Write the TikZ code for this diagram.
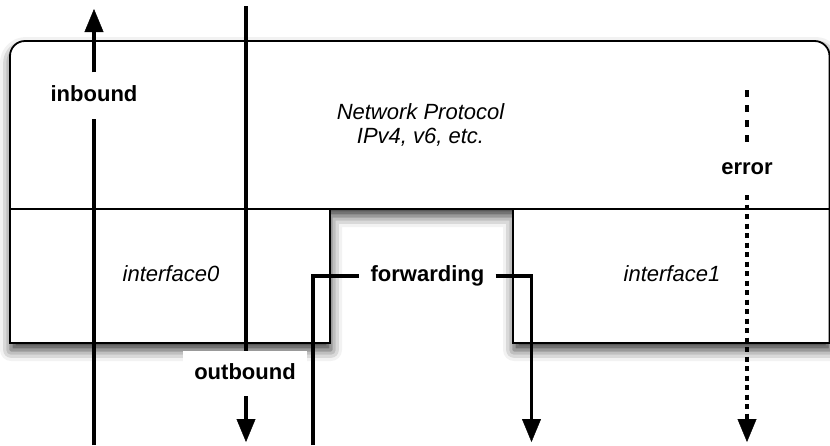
\documentclass[tikz,border=0pt]{standalone}
\usepackage{fontspec}
\setmainfont{Liberation Sans}
\usetikzlibrary{arrows.meta,shadows.blur}
\begin{document}
\begin{tikzpicture}[x=1pt,y=-1pt,
  boxline/.style={line width=1.8pt},
  flow/.style={line width=3.6pt},
  tipped/.style={-{Triangle[width=19pt 0 0, length=23pt 0 0, line width=0.4pt 0 0, fill=black]}},
  errup/.style={flow, dash pattern=on 6.5pt off 8.5pt},
  errdown/.style={flow, dash pattern=on 5pt off 4.5pt},
  blbl/.style={font=\fontsize{22}{26}\selectfont\bfseries, text height=16pt, text depth=4.6pt, inner xsep=0pt},
  ilbl/.style={font=\fontsize{22}{24}\selectfont\itshape, align=center, inner sep=0pt},
  boxshadow/.style={blur shadow={shadow xshift=1pt, shadow yshift=-7pt, shadow blur radius=11pt, shadow opacity=80}}
]
\useasboundingbox (0,0) rectangle (830,445);

% combined outline: network protocol box + two interface boxes
\path[draw, boxline, fill=white, boxshadow]
  (10,150) [rounded corners=15pt] -- (10,41) -- (829.5,41) -- (829.5,150)
  [sharp corners] -- (829.5,343) -- (513,343) -- (513,209) -- (330,209)
  -- (330,343) -- (10,343) -- cycle;
\draw[boxline] (10,209) -- (330,209);
\draw[boxline] (513,209) -- (829.5,209);

% box texts
\node[ilbl] (np) at (420.5,125) {Network Protocol\\IPv4, v6, etc.};
\node[ilbl, text height=16pt, text depth=4.6pt] (if0) at (171,276) {interface0};
\node[ilbl, text height=16pt, text depth=4.6pt] (if1) at (672,276) {interface1};

% inbound
\coordinate (inBot) at (94,445);
\coordinate (inTop) at (94,9);
\node[blbl, inner ysep=12.7pt] (inb) at (94,95.5) {inbound};
\draw[flow] (inBot) -- (inb.south);
\draw[flow,tipped] (inb.north) -- (inTop);

% outbound
\coordinate (outTop) at (246,6);
\coordinate (outBot) at (246,442);
\node[blbl, fill=white, minimum width=124pt, minimum height=45pt, inner ysep=0pt] (outb) at (245,373.5) {outbound};
\draw[flow] (outTop) -- (outTop |- outb.north);
\draw[flow,tipped] (outBot |- outb.south) -- (outBot);

% forwarding
\coordinate (fwdStart) at (313,445);
\coordinate (fwdEnd) at (531.5,442);
\node[blbl, inner xsep=11pt] (fwd) at (427.5,276) {forwarding};
\draw[flow] (fwdStart) |- (fwd.west);
\draw[flow,tipped] (fwd.east) -| (fwdEnd);

% error
\coordinate (errTop) at (747,90);
\coordinate (errBot) at (747,442);
\node[blbl, inner ysep=15.7pt] (err) at (747,169) {error};
\draw[errup] (errTop) -- (err.north);
\draw[errdown,tipped] (err.south) -- (errBot);
\end{tikzpicture}
\end{document}
